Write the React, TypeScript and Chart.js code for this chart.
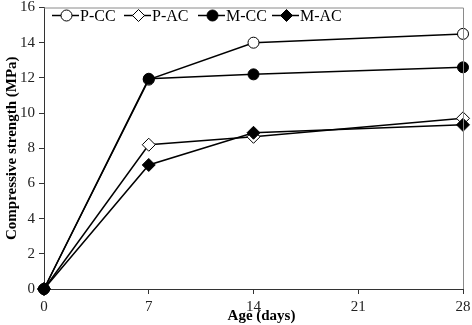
import React, { useEffect, useRef } from "react";
import { Chart, registerables } from "chart.js";

Chart.register(...registerables);

const ages = [0, 7, 14, 28];
const pcc = [0, 11.9, 14.0, 14.5];
const pac = [0, 8.2, 8.65, 9.7];
const mcc = [0, 11.95, 12.2, 12.6];
const mac = [0, 7.05, 8.88, 9.33];
const seriesNames = ["P-CC", "P-AC", "M-CC", "M-AC"];
const xTicks = [0, 7, 14, 21, 28];
const xTitle = "Age (days)";
const yTitle = "Compressive strength (MPa)";

const FONT = "'Liberation Serif', 'Times New Roman', serif";

const styles = [
  { pointStyle: "circle", fill: "#ffffff", radius: 5.5 },
  { pointStyle: "rectRot", fill: "#ffffff", radius: 6.5 },
  { pointStyle: "circle", fill: "#000000", radius: 5.5 },
  { pointStyle: "rectRot", fill: "#000000", radius: 6.5 },
];

const legendPos = [
  { x: 52, len: 27 },
  { x: 124, len: 27 },
  { x: 198, len: 27 },
  { x: 272, len: 27 },
];

const framePlugin = {
  id: "frame",
  afterDraw(chart: any) {
    const { ctx, chartArea } = chart;
    ctx.save();
    ctx.strokeStyle = "#8a8a8a";
    ctx.lineWidth = 1;
    ctx.beginPath();
    ctx.moveTo(chartArea.left, chartArea.top + 0.5);
    ctx.lineTo(chartArea.right + 0.5, chartArea.top + 0.5);
    ctx.lineTo(chartArea.right + 0.5, chartArea.bottom);
    ctx.stroke();
    // x axis title, slightly right of centre as in the reference
    ctx.fillStyle = "#000";
    ctx.font = `bold 15px ${FONT}`;
    ctx.textAlign = "center";
    ctx.textBaseline = "middle";
    ctx.fillText(xTitle, (chartArea.left + chartArea.right) / 2 + 8, 316);
    ctx.restore();
  },
};

const legendPlugin = {
  id: "customLegend",
  afterDatasetsDraw(chart: any) {
    const { ctx, chartArea } = chart;
    const y = chartArea.top + 8;
    ctx.save();
    seriesNames.forEach((name, i) => {
      const p = legendPos[i];
      const s = styles[i];
      ctx.strokeStyle = "#000";
      ctx.lineWidth = 1.5;
      ctx.beginPath();
      ctx.moveTo(p.x, y);
      ctx.lineTo(p.x + p.len, y);
      ctx.stroke();
      const cx = p.x + p.len / 2 + 1;
      ctx.fillStyle = s.fill;
      ctx.lineWidth = 1;
      ctx.beginPath();
      if (s.pointStyle === "circle") {
        ctx.arc(cx, y, 5.5, 0, Math.PI * 2);
      } else {
        const r = 6;
        ctx.moveTo(cx, y - r);
        ctx.lineTo(cx + r, y);
        ctx.lineTo(cx, y + r);
        ctx.lineTo(cx - r, y);
        ctx.closePath();
      }
      ctx.fill();
      ctx.stroke();
      ctx.fillStyle = "#000";
      ctx.font = `16px ${FONT}`;
      ctx.textBaseline = "middle";
      ctx.textAlign = "left";
      ctx.fillText(name, p.x + p.len + 1, y + 1);
    });
    ctx.restore();
  },
};

export default function App() {
  const ref = useRef<HTMLCanvasElement | null>(null);

  useEffect(() => {
    if (!ref.current) return;
    const all = [pcc, pac, mcc, mac];
    const chart = new Chart(ref.current, {
      type: "line",
      data: {
        datasets: all.map((vals, i) => ({
          label: seriesNames[i],
          data: ages.map((a, j) => ({ x: a, y: vals[j] })),
          borderColor: "#000",
          borderWidth: 1.5,
          pointStyle: styles[i].pointStyle as any,
          pointRadius: styles[i].radius,
          pointBackgroundColor: styles[i].fill,
          pointBorderColor: "#000",
          pointBorderWidth: 1,
          tension: 0,
          order: 3 - i,
          clip: false as any,
        })),
      },
      options: {
        animation: false,
        responsive: false,
        layout: { padding: { top: 7, right: 9, left: 0, bottom: 0 } },
        plugins: {
          legend: { display: false },
          tooltip: { enabled: false },
        },
        scales: {
          x: {
            type: "linear",
            min: 0,
            max: 28,
            afterFit(scale: any) {
              scale.height = 36;
              scale.paddingLeft = 0;
              scale.paddingRight = 0;
            },
            afterBuildTicks(scale: any) {
              scale.ticks = xTicks.map((v) => ({ value: v }));
            },
            grid: {
              drawOnChartArea: false,
              drawTicks: true,
              tickLength: 5,
              color: "#333",
            },
            border: { display: true, color: "#333", width: 1 },
            ticks: {
              color: "#222",
              font: { family: FONT, size: 15 },
              padding: 4,
              maxRotation: 0,
              autoSkip: false,
            },
            title: { display: false, text: xTitle },
          },
          y: {
            type: "linear",
            min: 0,
            max: 16,
            afterFit(scale: any) {
              scale.width = 44;
              scale.paddingTop = 0;
              scale.paddingBottom = 0;
            },
            grid: {
              drawOnChartArea: false,
              drawTicks: true,
              tickLength: 5,
              color: "#333",
            },
            border: { display: true, color: "#333", width: 1 },
            ticks: {
              stepSize: 2,
              color: "#222",
              font: { family: FONT, size: 15 },
              padding: 4,
            },
            title: {
              display: true,
              text: yTitle,
              color: "#000",
              font: { family: FONT, size: 15, weight: "bold" },
              padding: { top: 3, bottom: 0 },
            },
          },
        },
      },
      plugins: [framePlugin, legendPlugin],
    });
    return () => chart.destroy();
  }, []);

  return (
    <div style={{ position: "absolute", left: 0, top: 0, width: 472, height: 325 }}>
      <canvas ref={ref} width={472} height={325} style={{ width: 472, height: 325 }} />
    </div>
  );
}
